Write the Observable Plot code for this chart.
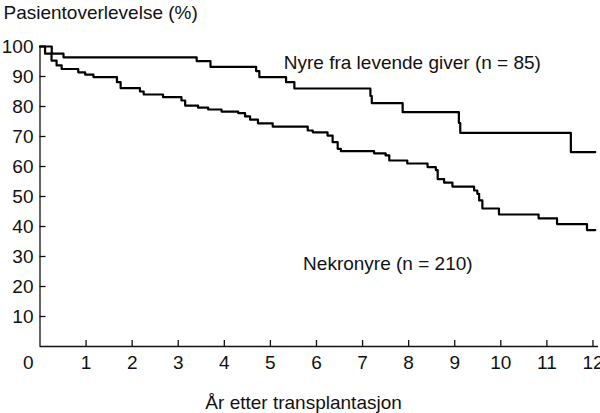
<!DOCTYPE html>
<html>
<head>
<meta charset="utf-8">
<script src="https://cdn.jsdelivr.net/npm/d3@7"></script>
<script src="https://cdn.jsdelivr.net/npm/@observablehq/plot@0.6"></script>
<style>
  html, body { margin: 0; padding: 0; background: #fff; }
  svg { display: block; }
</style>
</head>
<body>
<div id="chart"></div>
<script>
// Living donor kidney (n = 85): step times (years) and survival (%) after each step
const livingYears = [0, 0.255, 0.51, 3.40, 3.70, 4.69, 4.76, 5.34, 5.52, 7.17, 7.20, 7.87, 9.09, 9.12, 11.52, 12.05];
const livingPct   = [100, 97.6, 96.4, 95.1, 93.2, 91.8, 89.8, 88.1, 86.0, 83.5, 81.1, 78.1, 74.5, 71.2, 64.8, 64.8];

// Cadaveric kidney (n = 210)
const cadaverYears = [0, 0.11, 0.25, 0.36, 0.47, 0.83, 0.98, 1.16, 1.67, 1.75, 2.17, 2.25, 2.67, 3.07, 3.15,
  3.43, 3.65, 3.94, 4.30, 4.45, 4.56, 4.73, 5.05, 5.81, 5.92, 6.24, 6.35, 6.46, 6.53, 7.25, 7.50, 7.58,
  7.97, 8.41, 8.59, 8.63, 8.77, 8.95, 9.42, 9.49, 9.53, 9.60, 9.96, 10.82, 11.22, 11.87, 12.05];
const cadaverPct = [100, 97.6, 95.3, 93.7, 92.5, 91.4, 90.6, 89.8, 88.1, 86.1, 85.0, 84.0, 83.1, 82.0, 80.3,
  79.6, 79.0, 78.3, 77.8, 76.7, 75.6, 74.4, 73.3, 72.0, 71.4, 70.3, 68.1, 65.9, 65.1, 64.4, 63.7, 62.0,
  61.0, 59.8, 58.8, 55.8, 54.6, 53.3, 52.0, 50.9, 48.7, 46.0, 44.0, 42.7, 40.8, 38.8, 38.8];

const xTicks = [1, 2, 3, 4, 5, 6, 7, 8, 9, 10, 11, 12];
const yTicks = [10, 20, 30, 40, 50, 60, 70, 80, 90, 100];

const yTitle = "Pasientoverlevelse (%)";
const xTitle = "År etter transplantasjon";
const xTitleYear = 5.72;

const labels = ["Nyre fra levende giver (n = 85)", "Nekronyre (n = 210)"];
const labelYears = [5.29, 5.71];
const labelPct = [94.6, 27.4];

const living = livingYears.map((t, i) => ({t, s: livingPct[i]}));
const cadaver = cadaverYears.map((t, i) => ({t, s: cadaverPct[i]}));
const annots = labels.map((text, i) => ({text, t: labelYears[i], s: labelPct[i]}));

const ink = "#111";

const chart = Plot.plot({
  width: 600,
  height: 413,
  marginLeft: 39.5,
  marginRight: 2,
  marginTop: 46,
  marginBottom: 67,
  x: {domain: [0, 12.12]},
  y: {domain: [0, 100]},
  style: {fontFamily: "'Liberation Sans', Arial, Helvetica, sans-serif", fontSize: "19px", color: ink, background: "#fff", overflow: "visible"},
  marks: [
    // inward tick marks
    Plot.axisX({ticks: xTicks, tickSize: 6, dy: -6, tickFormat: () => "", label: null, stroke: ink, strokeWidth: 1.3}),
    Plot.axisY({ticks: yTicks, tickSize: 6, dx: 6, tickFormat: () => "", label: null, stroke: ink, strokeWidth: 1.3}),
    // tick labels
    Plot.axisX({ticks: xTicks, tickSize: 0, tickPadding: 9, label: null, fill: ink}),
    Plot.axisY({ticks: yTicks, tickSize: 0, tickPadding: 6.5, label: null, fill: ink}),
    Plot.text(["0"], {frameAnchor: "bottom-left", textAnchor: "end", lineAnchor: "top", dx: -6.5, dy: 9, fill: ink}),
    // axis lines
    Plot.ruleX([0], {stroke: ink, strokeWidth: 1.3}),
    Plot.ruleY([0], {stroke: ink, strokeWidth: 1.3}),
    // survival curves
    Plot.line(living, {x: "t", y: "s", curve: "step-after", stroke: "#000", strokeWidth: 2.2}),
    Plot.line(cadaver, {x: "t", y: "s", curve: "step-after", stroke: "#000", strokeWidth: 2.2}),
    // annotations
    Plot.text(annots, {x: "t", y: "s", text: "text", textAnchor: "start", lineAnchor: "middle", fill: ink}),
    // titles
    Plot.text([yTitle], {frameAnchor: "top-left", textAnchor: "start", lineAnchor: "middle", dx: -36.5, dy: -33.6, fill: ink}),
    Plot.text([xTitle], {x: () => xTitleYear, frameAnchor: "bottom", textAnchor: "middle", lineAnchor: "middle", dy: 56, fill: ink})
  ]
});
document.getElementById("chart").appendChild(chart);
</script>
</body>
</html>
